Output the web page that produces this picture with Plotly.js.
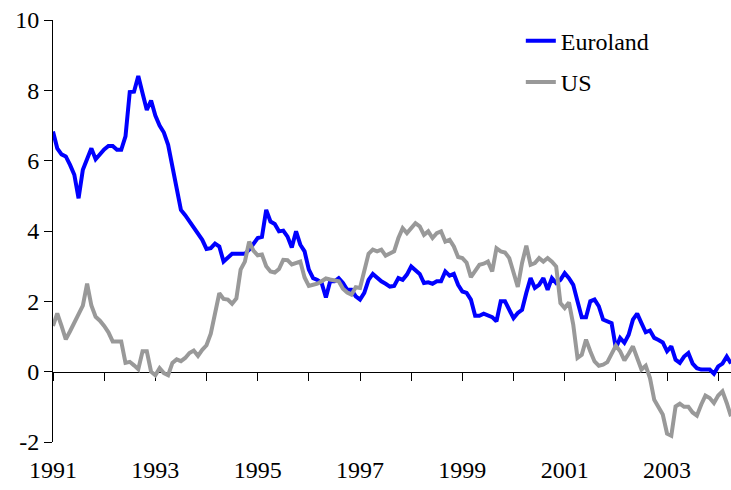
<!DOCTYPE html>
<html>
<head>
<meta charset="utf-8">
<script src="https://cdn.plot.ly/plotly-3.0.1.min.js"></script>
<style>html,body{margin:0;padding:0;background:#fff;}#chart{width:731px;height:490px;}</style>
</head>
<body>
<div id="chart"></div>
<script>
// Monthly series, January 1991 onwards
const startYear = 1991;
const euroland = [
6.83,6.35,6.18,6.12,5.88,5.6,4.93,5.74,6.05,6.35,6.04,6.2,
6.32,6.42,6.42,6.31,6.31,6.69,7.95,7.96,8.41,7.92,7.44,7.71,
7.28,7.0,6.8,6.45,5.85,5.3,4.6,4.45,4.27,4.1,3.9,3.75,
3.49,3.51,3.64,3.56,3.13,3.25,3.35,3.35,3.35,3.35,3.47,3.66,
3.8,3.83,4.6,4.27,4.2,3.99,4.01,3.84,3.53,3.99,3.61,3.42,
2.9,2.66,2.61,2.52,2.11,2.57,2.57,2.66,2.52,2.33,2.33,2.14,
2.05,2.24,2.61,2.78,2.66,2.57,2.5,2.42,2.44,2.66,2.61,2.76,
2.99,2.9,2.78,2.52,2.54,2.5,2.57,2.57,2.85,2.73,2.78,2.47,
2.28,2.24,2.05,1.59,1.59,1.65,1.59,1.55,1.43,2.0,2.0,1.76,
1.52,1.67,1.76,2.24,2.66,2.38,2.47,2.66,2.33,2.66,2.52,2.61,
2.8,2.66,2.47,2.0,1.55,1.55,2.0,2.05,1.86,1.48,1.43,1.38,
0.67,0.96,0.82,1.05,1.48,1.65,1.38,1.12,1.17,0.96,0.9,0.83,
0.58,0.72,0.34,0.25,0.43,0.53,0.23,0.1,0.06,0.06,0.06,-0.06,
0.15,0.23,0.43,0.23
];
const us = [
1.3,1.66,1.3,0.92,1.15,1.4,1.65,1.88,2.5,1.88,1.56,1.45,
1.3,1.12,0.86,0.86,0.86,0.25,0.28,0.18,0.07,0.58,0.58,0.0,
-0.1,0.1,-0.04,-0.1,0.25,0.35,0.3,0.39,0.53,0.6,0.45,0.62,
0.75,1.08,1.6,2.23,2.07,2.05,1.93,2.08,2.9,3.13,3.7,3.44,
3.31,3.33,3.0,2.85,2.82,2.92,3.18,3.17,3.05,3.1,3.13,2.68,
2.44,2.47,2.5,2.57,2.65,2.62,2.6,2.57,2.36,2.25,2.19,2.4,
2.38,2.9,3.35,3.47,3.42,3.47,3.3,3.36,3.42,3.8,4.08,3.94,
4.08,4.22,4.13,3.89,3.99,3.8,3.94,3.99,3.7,3.75,3.56,3.26,
3.23,3.1,2.69,2.88,3.04,3.07,3.13,2.85,3.51,3.42,3.39,3.23,
2.85,2.41,3.09,3.58,3.04,3.09,3.23,3.13,3.23,3.13,2.99,1.95,
1.81,1.97,1.34,0.39,0.48,0.91,0.58,0.29,0.17,0.2,0.27,0.53,
0.74,0.58,0.32,0.51,0.72,0.39,0.06,0.17,-0.18,-0.8,-0.99,-1.22,
-1.76,-1.82,-0.99,-0.91,-1.0,-1.0,-1.16,-1.25,-0.94,-0.68,-0.75,-0.89,
-0.68,-0.56,-0.89,-1.27
];
const seriesNames = ["Euroland", "US"];
const xTickYears = [1991, 1993, 1995, 1997, 1999, 2001, 2003];
const xTickLabels = ["1991", "1993", "1995", "1997", "1999", "2001", "2003"];
const yTickValues = [-2, 0, 2, 4, 6, 8, 10];
const yTickLabels = ["-2", "0", "2", "4", "6", "8", "10"];

const months = euroland.map((_, i) => startYear + i / 12);

const serif = '"Liberation Serif", "Times New Roman", Times, serif';
const fontSize = 24;

const traces = [
  {x: months, y: euroland, name: seriesNames[0], type: 'scatter', mode: 'lines',
   line: {color: '#0000FF', width: 4}, legendgroup: 'a'},
  {x: months, y: us, name: seriesNames[1], type: 'scatter', mode: 'lines',
   line: {color: '#999999', width: 4}, legendgroup: 'b'}
];

const layout = {
  width: 731, height: 490,
  margin: {l: 53, r: 0, t: 20, b: 48, pad: 0},
  paper_bgcolor: '#ffffff', plot_bgcolor: '#ffffff',
  font: {family: serif, size: fontSize, color: '#000000'},
  showlegend: true,
  xaxis: {
    range: [startYear, startYear + (euroland.length - 1) / 12],
    anchor: 'free', position: 2 / 12,
    showline: true, linecolor: '#000000', linewidth: 1,
    ticks: 'outside', ticklen: 8, tickwidth: 1, tickcolor: '#000000',
    tickmode: 'array', tickvals: xTickYears, ticktext: xTickLabels,
    ticklabelstandoff: 69,
    minor: {tick0: startYear, dtick: 1, ticks: 'outside', ticklen: 8, tickwidth: 1, tickcolor: '#000000', showgrid: false},
    showgrid: false, zeroline: false, layer: 'below traces',
    tickfont: {family: serif, size: fontSize, color: '#000000'}
  },
  yaxis: {
    range: [-2, 10],
    showline: true, linecolor: '#000000', linewidth: 1,
    ticks: 'outside', ticklen: 8, tickwidth: 1, tickcolor: '#000000',
    tickmode: 'array', tickvals: yTickValues, ticktext: yTickLabels,
    showgrid: false, zeroline: false, layer: 'below traces',
    tickfont: {family: serif, size: fontSize, color: '#000000'}
  },
  legend: {
    x: 0.69, xanchor: 'left', y: 1.003, yanchor: 'top',
    bgcolor: 'rgba(0,0,0,0)', borderwidth: 0,
    traceorder: 'grouped', tracegroupgap: 7,
    font: {family: serif, size: fontSize, color: '#000000'}
  }
};

Plotly.newPlot('chart', traces, layout, {displayModeBar: false, staticPlot: true});
</script>
</body>
</html>
